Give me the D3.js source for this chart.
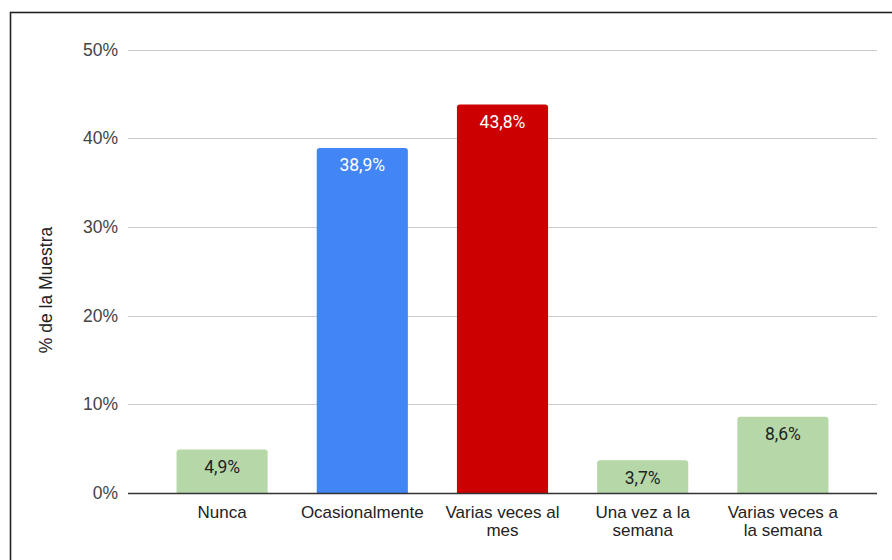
<!DOCTYPE html>
<html>
<head>
<meta charset="UTF-8">
<title>Frecuencia</title>
<script src="https://cdnjs.cloudflare.com/ajax/libs/d3/7.8.5/d3.min.js"></script>
<style>
  body { margin: 0; background: #fff; }
  svg { display: block; font-family: Arial, "Liberation Sans", sans-serif; }
</style>
</head>
<body>
<div id="chart"></div>
<script>
// data
var categories = ["Nunca", "Ocasionalmente", "Varias veces al mes", "Una vez a la semana", "Varias veces a la semana"];
var categoryLines = [["Nunca"], ["Ocasionalmente"], ["Varias veces al", "mes"], ["Una vez a la", "semana"], ["Varias veces a", "la semana"]];
var values = [4.9, 38.9, 43.8, 3.7, 8.6];
var valueLabels = ["4,9%", "38,9%", "43,8%", "3,7%", "8,6%"];
var barColors = ["#b6d7a8", "#4285f4", "#cc0000", "#b6d7a8", "#b6d7a8"];
var labelColors = ["#222222", "#ffffff", "#ffffff", "#222222", "#222222"];
var yTicks = [0, 10, 20, 30, 40, 50];
var yTitle = "% de la Muestra";

var W = 892, H = 560;
var gridLeft = 128, gridRight = 877;
var plot = {left: 152, right: 853, top: 49.5, bottom: 493};
var fs = 17.5;

var svg = d3.select("#chart").append("svg")
    .attr("width", W)
    .attr("height", H);

// outer frame
svg.append("rect")
    .attr("x", 10.5).attr("y", 12.5)
    .attr("width", W).attr("height", H)
    .attr("fill", "none")
    .attr("stroke", "#222")
    .attr("stroke-width", 1.6);

var x = d3.scaleBand()
    .domain(categories)
    .range([plot.left, plot.right])
    .paddingInner(0.35)
    .paddingOuter(0.175);

var y = d3.scaleLinear()
    .domain([0, 50])
    .range([plot.bottom, plot.top]);

// gridlines
svg.append("g")
    .selectAll("line")
    .data(yTicks.filter(function(d) { return d > 0; }))
    .enter().append("line")
    .attr("x1", gridLeft).attr("x2", gridRight)
    .attr("y1", function(d) { return Math.round(y(d)) + 0.5; })
    .attr("y2", function(d) { return Math.round(y(d)) + 0.5; })
    .attr("stroke", "#cccccc")
    .attr("stroke-width", 1);

// y tick labels
svg.append("g")
    .selectAll("text")
    .data(yTicks)
    .enter().append("text")
    .attr("x", 118)
    .attr("y", function(d) { return y(d); })
    .attr("dy", "0.35em")
    .attr("text-anchor", "end")
    .attr("font-size", fs)
    .attr("fill", "#444")
    .text(function(d) { return d + "%"; });

// y title
svg.append("text")
    .attr("transform", "translate(52," + 290 + ") rotate(-90)")
    .attr("text-anchor", "middle")
    .attr("font-size", fs)
    .attr("fill", "#222")
    .text(yTitle);

// bars with rounded top corners
function barPath(x0, w, yTop, yBot, r) {
    r = Math.min(r, (yBot - yTop));
    return "M" + x0 + "," + yBot +
        "V" + (yTop + r) +
        "Q" + x0 + "," + yTop + " " + (x0 + r) + "," + yTop +
        "H" + (x0 + w - r) +
        "Q" + (x0 + w) + "," + yTop + " " + (x0 + w) + "," + (yTop + r) +
        "V" + yBot + "Z";
}

svg.append("g")
    .selectAll("path")
    .data(values)
    .enter().append("path")
    .attr("d", function(d, i) {
        return barPath(x(categories[i]), x.bandwidth(), y(d), y(0), 3);
    })
    .attr("fill", function(d, i) { return barColors[i]; });

// value labels
svg.append("g")
    .selectAll("text")
    .data(values)
    .enter().append("text")
    .attr("x", function(d, i) { return x(categories[i]) + x.bandwidth() / 2; })
    .attr("y", function(d) { return y(d) + 23.5; })
    .attr("text-anchor", "middle")
    .attr("font-family", "Roboto, Arial, sans-serif")
    .attr("font-size", fs)
    .attr("fill", function(d, i) { return labelColors[i]; })
    .text(function(d, i) { return valueLabels[i]; });

// baseline
svg.append("line")
    .attr("x1", gridLeft).attr("x2", gridRight)
    .attr("y1", y(0) + 0.5).attr("y2", y(0) + 0.5)
    .attr("stroke", "#333")
    .attr("stroke-width", 1.5);

// category labels, one text per line
var catG = svg.append("g");
categories.forEach(function(c, i) {
    categoryLines[i].forEach(function(line, j) {
        catG.append("text")
            .attr("x", x(c) + x.bandwidth() / 2)
            .attr("y", 517.5 + j * 18)
            .attr("text-anchor", "middle")
            .attr("font-size", 17)
            .attr("fill", "#222")
            .text(line);
    });
});
</script>
</body>
</html>
